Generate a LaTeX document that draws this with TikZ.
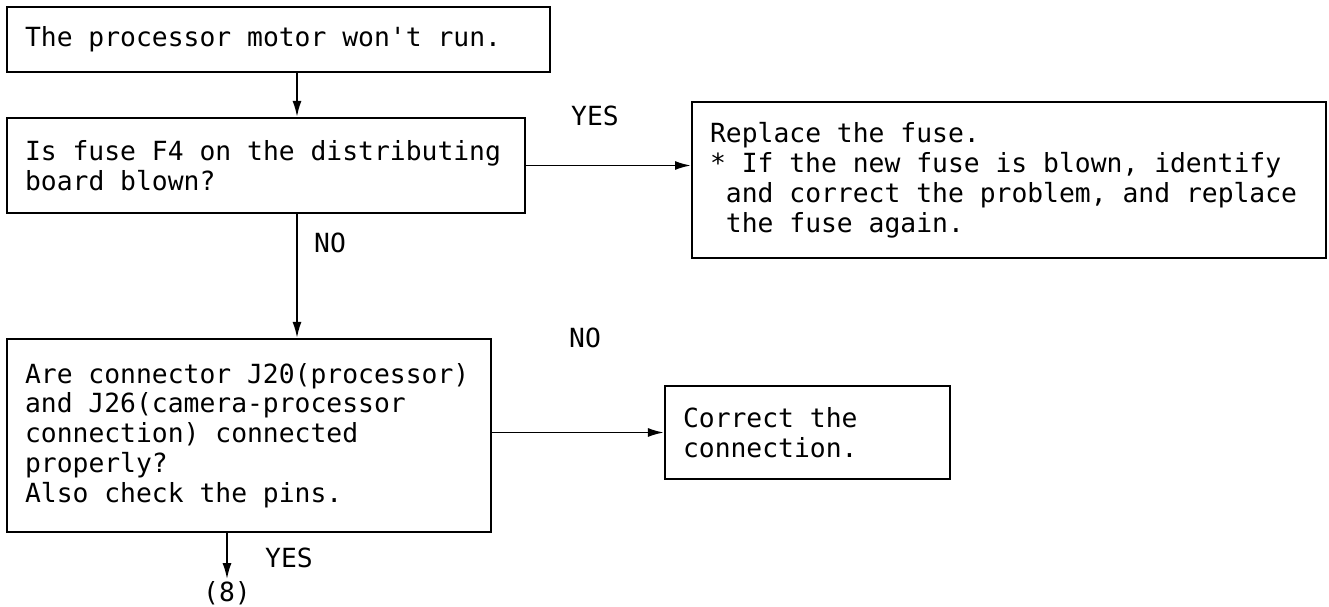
\documentclass[tikz,border=0pt]{standalone}
\usepackage{fontspec}
\setmonofont{DejaVu Sans Mono}
\usepackage{tikz}
\usetikzlibrary{arrows.meta}

\newcommand\chartfont{\ttfamily\fontsize{15pt}{17pt}\selectfont}
\newcommand\fullspaces{\spaceskip=9.03pt\xspaceskip=9.03pt\relax}

\begin{document}
\begin{tikzpicture}[
  x=0.02cm, y=-0.02cm,
  font=\chartfont,
  >={Latex[length=0.32cm,width=0.18cm]},
  lbl/.style={inner sep=1pt},
  arr/.style={->, line width=1.1pt},
  blk/.style 2 args={draw, line width=1.2pt, inner xsep=0.36cm, inner ysep=0pt,
              text width=#1, minimum height=#2, align=flush left,
              execute at begin node=\fullspaces},
]
\useasboundingbox (0,0) rectangle (1329,607);

%% ====================================================
%% Boxes
%% ====================================================
\node[blk={10.14cm}{1.30cm}] (start) at (278.5,39.5) {The processor motor won't run.};
\node[blk={9.64cm}{1.90cm}] (fuse) at (266,165.5) {Is fuse F4 on the distributing\\board blown?};
\node[blk={11.96cm}{3.12cm}] (repl) at (1009,180) {Replace the fuse.\\{*} If the new fuse is blown, identify\\\phantom{*}and correct the problem, and replace\\\phantom{*}the fuse again.};
\node[blk={8.96cm}{3.86cm}] (conn) at (249,435.5) {Are connector J20(processor)\\and J26(camera-processor\\connection) connected\\properly?\\Also check the pins.};
\node[blk={4.98cm}{1.86cm}] (fix) at (807.5,432.5) {Correct the\\connection.};

%% Exit to next chart
\node[lbl] (ref8) at (227,593) {(8)};

%% ====================================================
%% Connectors
%% ====================================================
\coordinate (trunk) at (297,0);
\draw[arr] (start.south -| trunk) -- (fuse.north -| trunk);
\draw[arr] (fuse.east) -- (fuse.east -| repl.west);
\draw[arr] (fuse.south -| trunk) -- (conn.north -| trunk);
\draw[arr] (conn.east |- fix.west) -- (fix.west);
\draw[arr] (conn.south -| ref8.north) -- (ref8.north);

%% Answer labels
\node[lbl] (yes1) at (595,116) {YES};
\node[lbl] (no1) at (330,243) {NO};
\node[lbl] (no2) at (585,338) {NO};
\node[lbl] (yes2) at (289,558) {YES};

\end{tikzpicture}
\end{document}
